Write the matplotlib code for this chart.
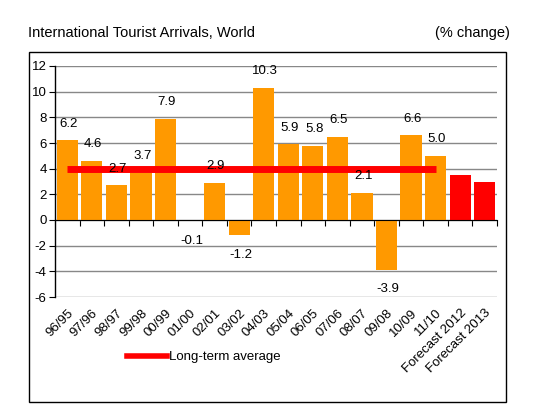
import matplotlib
matplotlib.use("Agg")
import matplotlib.pyplot as plt
from matplotlib.patches import Rectangle
from matplotlib.lines import Line2D

plt.rcParams['font.family'] = ['Liberation Sans Narrow', 'Liberation Sans', 'DejaVu Sans']
plt.rcParams['axes.unicode_minus'] = False

periods = ['96/95', '97/96', '98/97', '99/98', '00/99', '01/00', '02/01', '03/02', '04/03',
           '05/04', '06/05', '07/06', '08/07', '09/08', '10/09', '11/10',
           'Forecast 2012', 'Forecast 2013']
growth = [6.2, 4.6, 2.7, 3.7, 7.9, -0.1, 2.9, -1.2, 10.3, 5.9, 5.8, 6.5, 2.1, -3.9, 6.6, 5.0, 3.5, 3.0]
is_forecast = [False] * 16 + [True, True]
long_term_avg = 4.0
avg_span = (0, 15)

ORANGE = '#ff9900'
RED = '#ff0000'

fig = plt.figure(figsize=(5.5, 4.12), dpi=100)
ax = fig.add_axes([55 / 550, 1 - 297 / 412, 442 / 550, 231 / 412])

colors = [RED if f else ORANGE for f in is_forecast]
x = list(range(len(periods)))
ax.bar(x, growth, width=0.86, color=colors, zorder=2)

for i, v in enumerate(growth):
    if is_forecast[i]:
        continue
    off = 12 if v >= 0 else -14
    ax.annotate(f"{v:.1f}", (i, v), xytext=(1, off), textcoords='offset points',
                ha='center', va='center', fontsize=9.5, zorder=4)

ax.plot(avg_span, [long_term_avg, long_term_avg], color=RED, lw=5, zorder=3,
        solid_capstyle='butt')

ax.set_xlim(-0.5, len(periods) - 0.5)
ax.set_ylim(-6, 12)
ax.set_yticks(range(-6, 13, 2))
ax.yaxis.grid(True, color='#888888', lw=1)
ax.set_axisbelow(True)
ax.tick_params(axis='y', length=4, labelsize=9.5, pad=2)

for s in ['top', 'right']:
    ax.spines[s].set_visible(False)
ax.spines['bottom'].set_position(('data', 0))
ax.spines['left'].set_linewidth(1)
ax.set_xticks([i + 0.5 for i in x])
ax.tick_params(axis='x', length=4, labelbottom=False)

sec = ax.secondary_xaxis('bottom')
sec.set_xticks(x)
sec.set_xticklabels(periods, rotation=45, ha='right', rotation_mode='anchor', fontsize=9.5)
sec.tick_params(length=0, pad=7)
sec.spines['bottom'].set_visible(False)

fig.text(28 / 550, 1 - 33 / 412, "International Tourist Arrivals, World", fontsize=10.5,
         ha='left', va='center')
fig.text(510 / 550, 1 - 33 / 412, "(% change)", fontsize=10.5, ha='right', va='center')

handle = Line2D([], [], color=RED, lw=4)
fig.legend([handle], ["Long-term average"], loc='center left',
           bbox_to_anchor=(127 / 550, 1 - 357 / 412), frameon=False, fontsize=9.5,
           handlelength=3.0, handletextpad=0.2, borderpad=0, borderaxespad=0)

fig.patches.append(Rectangle((29 / 550, 1 - 402 / 412), 477 / 550, 350 / 412,
                             transform=fig.transFigure, fill=False, ec='black', lw=1))

fig.savefig("out.png", dpi=100)
